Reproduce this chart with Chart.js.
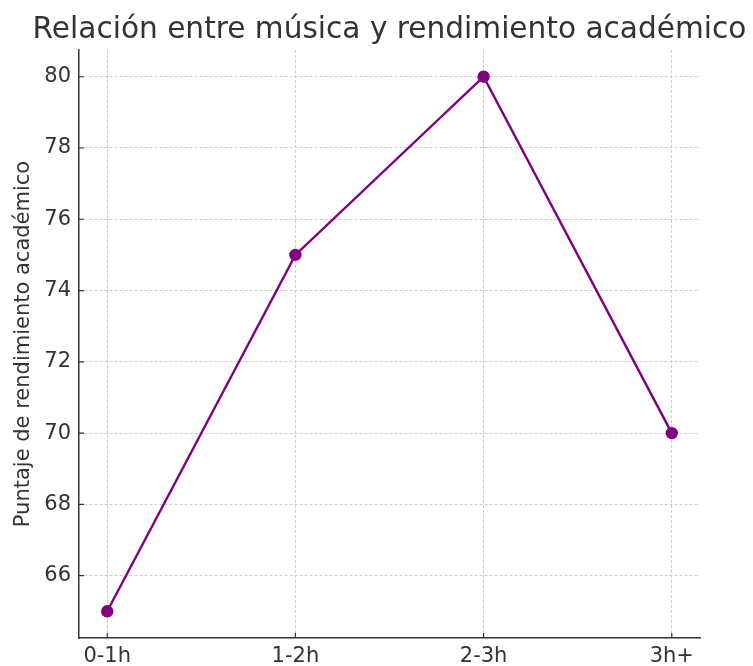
<!DOCTYPE html>
<html>
<head>
<meta charset="utf-8">
<script src="https://cdn.jsdelivr.net/npm/chart.js@4"></script>
<style>
  body { margin: 0; background: #fff; }
  #wrap { width: 753px; height: 666px; }
</style>
</head>
<body>
<div id="wrap"><canvas id="musicChart" width="753" height="666"></canvas></div>
<script>
// chart data
const categories = ['0-1h', '1-2h', '2-3h', '3h+'];
const scores = [65, 75, 80, 70];
const yTicks = [66, 68, 70, 72, 74, 76, 78, 80];

const titleText = 'Relación entre música y rendimiento académico';
const yLabel = 'Puntaje de rendimiento académico';

const textColor = '#333333';
const gridColor = '#cccccc';

// title drawn over the plot area (matplotlib style)
const titlePlugin = {
    id: 'plotTitle',
    afterDraw(chart) {
        const ctx = chart.ctx;
        const area = chart.chartArea;
        ctx.save();
        ctx.font = '29.6px "DejaVu Sans"';
        ctx.fillStyle = textColor;
        ctx.textAlign = 'center';
        ctx.textBaseline = 'alphabetic';
        ctx.fillText(titleText, (area.left + area.right) / 2, 38);
        ctx.restore();
    }
};

// matplotlib draws its tick marks pointing into the plot
const innerTicks = {
    id: 'innerTicks',
    afterDraw(chart) {
        const ctx = chart.ctx;
        const area = chart.chartArea;
        const xs = chart.scales.x, ys = chart.scales.y;
        ctx.save();
        ctx.strokeStyle = textColor;
        ctx.lineWidth = 1.2;
        ctx.beginPath();
        yTicks.forEach(v => {
            const py = ys.getPixelForValue(v);
            ctx.moveTo(area.left, py);
            ctx.lineTo(area.left + 5, py);
        });
        categories.forEach((c, i) => {
            const px = xs.getPixelForValue(i);
            ctx.moveTo(px, area.bottom);
            ctx.lineTo(px, area.bottom - 5);
        });
        ctx.stroke();
        ctx.restore();
    }
};

var ctx = document.getElementById('musicChart').getContext('2d');
new Chart(ctx, {
    type: 'line',
    data: {
        datasets: [{
            data: scores.map((v, i) => ({ x: i, y: v })),
            borderColor: '#800080',
            backgroundColor: '#800080',
            borderWidth: 2.4,
            pointRadius: 5,
            pointHoverRadius: 5,
            tension: 0,
        }]
    },
    options: {
        responsive: false,
        animation: false,
        events: [],
        layout: { padding: { top: 50, right: 53, left: 0, bottom: 0 } },
        plugins: {
            legend: { display: false },
            tooltip: { enabled: false },
        },
        scales: {
            x: {
                type: 'linear',
                min: -0.15,
                max: 3.15,
                afterBuildTicks: (scale) => {
                    scale.ticks = categories.map((c, i) => ({ value: i }));
                },
                afterFit: (scale) => { scale.height = 28; },
                ticks: {
                    callback: (value) => categories[value],
                    color: textColor,
                    font: { family: 'DejaVu Sans', size: 21 },
                    padding: 6,
                    maxRotation: 0,
                },
                grid: {
                    color: gridColor,
                    drawTicks: false,
                    lineWidth: 1,
                },
                border: { color: '#333333', width: 1.5, dash: [3, 2] },
            },
            y: {
                min: 64.25,
                max: 80.75,
                afterBuildTicks: (scale) => {
                    scale.ticks = yTicks.map(v => ({ value: v }));
                },
                afterFit: (scale) => { scale.width = 79; },
                ticks: {
                    color: textColor,
                    font: { family: 'DejaVu Sans', size: 21 },
                    padding: 8,
                },
                grid: {
                    color: gridColor,
                    drawTicks: false,
                    lineWidth: 1,
                },
                border: { color: '#333333', width: 1.5, dash: [3, 2] },
                title: {
                    display: true,
                    text: yLabel,
                    color: textColor,
                    font: { family: 'DejaVu Sans', size: 21 },
                    padding: { top: 11, bottom: 0 },
                },
            },
        },
    },
    plugins: [titlePlugin, innerTicks],
});
</script>
</body>
</html>
